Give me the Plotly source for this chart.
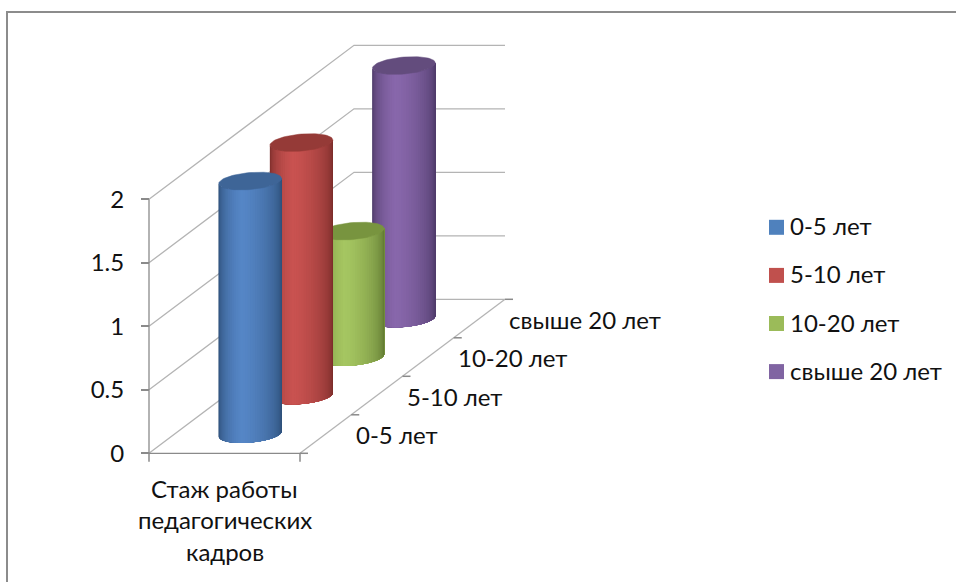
import math
import plotly.graph_objects as go

# ---- data ----
categories = ["0-5 лет", "5-10 лет", "10-20 лет", "свыше 20 лет"]
series_values = [2, 2, 1, 2]
group_label = ["Стаж работы", "педагогических", "кадров"]
y_ticks = [0, 0.5, 1, 1.5, 2]
y_tick_labels = ["0", "0.5", "1", "1.5", "2"]
base_colors = ["#5586c6", "#c95250", "#a5c661", "#8867ab"]
edge_colors = ["#2a4a72", "#742a28", "#5a722e", "#483662"]
top_colors = ["#3e6597", "#953a37", "#78943f", "#634c7d"]
legend_colors = ["#4f81bd", "#c0504d", "#9bbb59", "#8064a2"]

W, H = 956, 582
FONT = "Lato"
FS = 24
# oblique projection: horizontal axis in px, value axis in data units, depth in categories
X0, X1 = 149, 300
DX, DY_VAL = 205 / 4, (154 / 4) / 127
PX_PER_UNIT = 127
Y0_PX = 453.3
RX = 31.5
RY = 8.5
TILT = 2.6


def hexmix(a, b, t):
    ca = [int(a[i:i + 2], 16) for i in (1, 3, 5)]
    cb = [int(b[i:i + 2], 16) for i in (1, 3, 5)]
    return "rgb(%d,%d,%d)" % tuple(round(p + (q - p) * t) for p, q in zip(ca, cb))


def px(group_pos, depth):
    return X0 + (X1 - X0) * group_pos + DX * depth


def val(value, depth):
    return value + DY_VAL * depth


def yv(pixel):
    return (Y0_PX - pixel) / PX_PER_UNIT


fig = go.Figure()


def line(xs, ys, color="#b4b4b4", width=1.3):
    fig.add_trace(go.Scatter(x=xs, y=ys, mode="lines", showlegend=False, hoverinfo="skip",
                             line=dict(color=color, width=width)))


# walls
n = len(categories)
for t in y_ticks:
    line([px(0, 0), px(0, n), px(1, n)], [val(t, 0), val(t, n), val(t, n)])
line([px(1, 0), px(1, n)], [val(0, 0), val(0, n)])
# axes and ticks
AX = "#8a8a8a"
line([px(0, 0), px(0, 0)], [val(0, 0), val(2, 0)], AX)
line([px(0, 0), px(1, 0)], [val(0, 0), val(0, 0)], AX)
for g in (0, 1):
    line([px(g, 0), px(g, 0)], [0, -8.5 / PX_PER_UNIT], AX, 1.5)
for k in range(n + 1):
    line([px(1, k), px(1, k) + 8], [val(0, k), val(0, k)], AX, 1.5)

# cylinders, back to front
STRIPS = 40
for k in reversed(range(n)):
    d = k + 0.5
    cx = px(0.5, d)
    v = series_values[k]
    cb = val(0, d)
    ct = val(v, d) - 1 / PX_PER_UNIT
    for s in range(STRIPS):
        t0 = s / STRIPS
        # each strip reaches the right edge; the next one paints over it, so no seams appear
        th = [math.pi * (1 - (t0 + (1 - t0) * j / 24)) for j in range(25)]
        xs = [cx + RX * math.cos(a) for a in th]
        off = [(-RY * math.sin(a) + TILT * math.cos(a)) / PX_PER_UNIT for a in th]
        xpoly = xs + xs[::-1] + [xs[0]]
        ypoly = [cb + o for o in off] + [ct + o for o in off[::-1]] + [cb + off[0]]
        m = t0 + 0.5 / STRIPS
        tc = abs(m - 0.42) / (0.58 if m > 0.42 else 0.42)
        col = hexmix(base_colors[k], edge_colors[k], tc ** 1.35)
        fig.add_trace(go.Scatter(x=xpoly, y=ypoly, mode="lines", fill="toself", fillcolor=col,
                                 line=dict(color=col, width=0), showlegend=False, hoverinfo="skip"))
    th = [2 * math.pi * j / 72 for j in range(73)]
    xs = [cx + RX * math.cos(a) for a in th]
    ys = [ct + (RY * math.sin(a) + TILT * math.cos(a)) / PX_PER_UNIT for a in th]
    fig.add_trace(go.Scatter(x=xs, y=ys, mode="lines", fill="toself", fillcolor=top_colors[k],
                             line=dict(color=top_colors[k], width=0.5), showlegend=False, hoverinfo="skip"))

annotations = []
for k, c in enumerate(categories):
    annotations.append(dict(x=px(1, k + 0.5) + 28, y=val(0, k + 0.5) - 0.5 / PX_PER_UNIT, text=c, xanchor="left",
                            yanchor="middle", showarrow=False, font=dict(family=FONT, size=FS, color="#111")))
for i, t in enumerate(group_label):
    annotations.append(dict(x=px(0.5, 0), y=yv(488 + 31.5 * i), text=t, xanchor="center", yanchor="middle",
                            showarrow=False, font=dict(family=FONT, size=FS, color="#111")))

# legend keys
for i, (c, col) in enumerate(zip(categories, legend_colors)):
    py = 227.3 + 48.1 * i
    fig.add_trace(go.Scatter(x=[776.5], y=[yv(py)], mode="markers", name=c, showlegend=False,
                             marker=dict(symbol="square", size=15, color=col, line=dict(width=0))))
    annotations.append(dict(x=788, y=yv(py - 1.5), text=c, xanchor="left", yanchor="middle", showarrow=False,
                            font=dict(family=FONT, size=FS, color="#111")))

fig.update_layout(
    width=W, height=H, margin=dict(l=0, r=0, t=0, b=0), paper_bgcolor="white", plot_bgcolor="white",
    showlegend=False, annotations=annotations,
    xaxis=dict(range=[0, W], visible=False, fixedrange=True),
    yaxis=dict(range=[yv(H), yv(0)], fixedrange=True, showgrid=False, zeroline=False, showline=False,
               tickmode="array", tickvals=y_ticks, ticktext=y_tick_labels, ticks="outside", ticklen=8,
               tickcolor=AX, tickwidth=1.5, tickfont=dict(family=FONT, size=FS, color="#111"),
               ticklabelstandoff=12, anchor="free", position=149 / W),
    shapes=[dict(type="rect", xref="paper", yref="paper", x0=7 / W, x1=1 + 40 / W, y0=-40 / H, y1=1 - 12 / H,
                 line=dict(color="#8c8c8c", width=2), layer="below")],
)
fig.write_html("out.html", config=dict(displayModeBar=False),
               post_script="document.body.style.margin='0';document.documentElement.style.overflow='hidden';")
